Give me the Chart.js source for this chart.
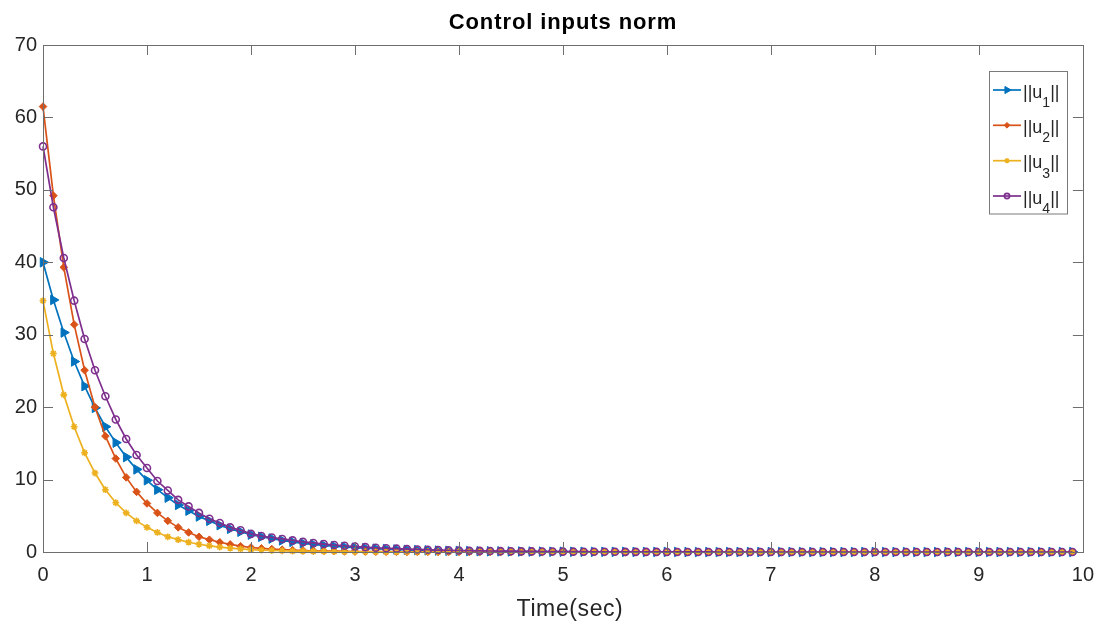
<!DOCTYPE html>
<html>
<head>
<meta charset="utf-8">
<script src="https://cdn.jsdelivr.net/npm/chart.js@4.4.0/dist/chart.umd.min.js"></script>
<style>
  html, body { margin: 0; padding: 0; background: #fff; }
  #wrap { position: relative; width: 1105px; height: 627px; }
</style>
</head>
<body>
<div id="wrap"><canvas id="normChart"></canvas></div>
<script>
// sample times (sec)
const time = [
  0, 0.1, 0.2, 0.3, 0.4, 0.5, 0.6, 0.7, 0.8, 0.9,
  1, 1.1, 1.2, 1.3, 1.4, 1.5, 1.6, 1.7, 1.8, 1.9,
  2, 2.1, 2.2, 2.3, 2.4, 2.5, 2.6, 2.7, 2.8, 2.9,
  3, 3.1, 3.2, 3.3, 3.4, 3.5, 3.6, 3.7, 3.8, 3.9,
  4, 4.1, 4.2, 4.3, 4.4, 4.5, 4.6, 4.7, 4.8, 4.9,
  5, 5.1, 5.2, 5.3, 5.4, 5.5, 5.6, 5.7, 5.8, 5.9,
  6, 6.1, 6.2, 6.3, 6.4, 6.5, 6.6, 6.7, 6.8, 6.9,
  7, 7.1, 7.2, 7.3, 7.4, 7.5, 7.6, 7.7, 7.8, 7.9,
  8, 8.1, 8.2, 8.3, 8.4, 8.5, 8.6, 8.7, 8.8, 8.9,
  9, 9.1, 9.2, 9.3, 9.4, 9.5, 9.6, 9.7, 9.8, 9.9
];

const u1 = [
  40.0, 34.8, 30.3, 26.3, 22.9, 19.9, 17.3, 15.1, 13.1, 11.4,
  9.9, 8.6, 7.5, 6.5, 5.7, 4.9, 4.3, 3.7, 3.2, 2.8,
  2.4, 2.1, 1.85, 1.6, 1.4, 1.2, 1.05, 0.92, 0.8, 0.7,
  0.6, 0.52, 0.46, 0.4, 0.35, 0.3, 0.26, 0.23, 0.2, 0.17,
  0.15, 0.13, 0.11, 0.1, 0.09, 0.08, 0.07, 0.06, 0.05, 0.04,
  0.04, 0.03, 0.03, 0.02, 0.02, 0.02, 0.02, 0.01, 0.01, 0.01,
  0.01, 0.01, 0, 0, 0, 0, 0, 0, 0, 0,
  0, 0, 0, 0, 0, 0, 0, 0, 0, 0,
  0, 0, 0, 0, 0, 0, 0, 0, 0, 0,
  0, 0, 0, 0, 0, 0, 0, 0, 0, 0
];

const u2 = [
  61.5, 49.2, 39.3, 31.4, 25.1, 20.0, 16.0, 12.9, 10.3, 8.3,
  6.7, 5.4, 4.3, 3.4, 2.7, 2.1, 1.7, 1.35, 1.05, 0.8,
  0.62, 0.5, 0.4, 0.32, 0.26, 0.21, 0.17, 0.14, 0.11, 0.09,
  0.07, 0.06, 0.05, 0.04, 0.03, 0.02, 0.02, 0.02, 0.01, 0.01,
  0.01, 0, 0, 0, 0, 0, 0, 0, 0, 0,
  0, 0, 0, 0, 0, 0, 0, 0, 0, 0,
  0, 0, 0, 0, 0, 0, 0, 0, 0, 0,
  0, 0, 0, 0, 0, 0, 0, 0, 0, 0,
  0, 0, 0, 0, 0, 0, 0, 0, 0, 0,
  0, 0, 0, 0, 0, 0, 0, 0, 0, 0
];

const u3 = [
  34.7, 27.4, 21.7, 17.3, 13.7, 10.9, 8.6, 6.8, 5.4, 4.3,
  3.4, 2.7, 2.1, 1.7, 1.35, 1.07, 0.85, 0.67, 0.53, 0.42,
  0.33, 0.26, 0.21, 0.17, 0.13, 0.11, 0.08, 0.07, 0.05, 0.04,
  0.03, 0.03, 0.02, 0.02, 0.01, 0.01, 0, 0, 0, 0,
  0, 0, 0, 0, 0, 0, 0, 0, 0, 0,
  0, 0, 0, 0, 0, 0, 0, 0, 0, 0,
  0, 0, 0, 0, 0, 0, 0, 0, 0, 0,
  0, 0, 0, 0, 0, 0, 0, 0, 0, 0,
  0, 0, 0, 0, 0, 0, 0, 0, 0, 0,
  0, 0, 0, 0, 0, 0, 0, 0, 0, 0
];

const u4 = [
  56.0, 47.6, 40.6, 34.7, 29.4, 25.1, 21.5, 18.3, 15.6, 13.4,
  11.6, 9.8, 8.5, 7.2, 6.3, 5.4, 4.6, 4.0, 3.4, 3.0,
  2.5, 2.2, 2.0, 1.8, 1.6, 1.4, 1.25, 1.1, 0.97, 0.86,
  0.76, 0.67, 0.59, 0.52, 0.46, 0.4, 0.35, 0.31, 0.27, 0.24,
  0.21, 0.18, 0.16, 0.14, 0.12, 0.11, 0.09, 0.08, 0.07, 0.06,
  0.05, 0.045, 0.04, 0.035, 0.03, 0.025, 0.02, 0.02, 0.015, 0.015,
  0.01, 0.01, 0.01, 0.01, 0.01, 0, 0, 0, 0, 0,
  0, 0, 0, 0, 0, 0, 0, 0, 0, 0,
  0, 0, 0, 0, 0, 0, 0, 0, 0, 0,
  0, 0, 0, 0, 0, 0, 0, 0, 0, 0
];

const xTicks = [0, 1, 2, 3, 4, 5, 6, 7, 8, 9, 10];
const yTicks = [0, 10, 20, 30, 40, 50, 60, 70];
const seriesNames = ['1', '2', '3', '4'];   // subscripts of ||u_i||
const seriesColors = ['#0072BD', '#D95319', '#EDB120', '#7E2F8E'];

const FONT = '"Liberation Sans", Arial, Helvetica, sans-serif';
const TEXT = '#262626';
const AXIS = '#6e6e6e';

const markerStyles = [
  { pointStyle: 'triangle', radius: 5.5, rotation: 90, fill: true, borderWidth: 1 },
  { pointStyle: 'rectRot', radius: 3.8, rotation: 0, fill: true, borderWidth: 1 },
  { pointStyle: 'star', radius: 3.4, rotation: 0, fill: false, borderWidth: 1.6 },
  { pointStyle: 'circle', radius: 3.5, rotation: 0, fill: false, borderWidth: 1.6 }
];

const toPoints = vals => time.map((t, i) => ({ x: t, y: vals[i] }));

const datasets = [u1, u2, u3, u4].map((vals, i) => ({
  label: '||u' + seriesNames[i] + '||',
  data: toPoints(vals),
  borderColor: seriesColors[i],
  backgroundColor: markerStyles[i].fill ? seriesColors[i] : 'rgba(0,0,0,0)',
  borderWidth: 1.7,
  pointStyle: markerStyles[i].pointStyle,
  pointRadius: markerStyles[i].radius,
  pointRotation: markerStyles[i].rotation,
  pointBorderWidth: markerStyles[i].borderWidth,
  pointBorderColor: seriesColors[i],
  pointBackgroundColor: markerStyles[i].fill ? seriesColors[i] : 'rgba(0,0,0,0)',
  tension: 0,
  clip: false,
  order: 3 - i   // later series drawn on top, like matlab
}));

// box, inward ticks, titles and legend drawn by hand (matlab look)
const matlabAxes = {
  id: 'matlabAxes',
  afterDraw(chart) {
    const { ctx, chartArea: a, scales } = chart;
    const xs = scales.x, ys = scales.y;
    ctx.save();
    ctx.strokeStyle = AXIS;
    ctx.lineWidth = 1;
    ctx.strokeRect(Math.round(a.left) + 0.5, Math.round(a.top) + 0.5,
      Math.round(a.right - a.left), Math.round(a.bottom - a.top));
    const tl = 10;
    ctx.beginPath();
    xTicks.forEach(v => {
      const px = Math.round(xs.getPixelForValue(v)) + 0.5;
      ctx.moveTo(px, a.bottom); ctx.lineTo(px, a.bottom - tl);
      ctx.moveTo(px, a.top); ctx.lineTo(px, a.top + tl);
    });
    yTicks.forEach(v => {
      const py = Math.round(ys.getPixelForValue(v)) + 0.5;
      ctx.moveTo(a.left, py); ctx.lineTo(a.left + tl, py);
      ctx.moveTo(a.right, py); ctx.lineTo(a.right - tl, py);
    });
    ctx.stroke();

    // title
    ctx.fillStyle = '#000';
    ctx.textAlign = 'center';
    ctx.textBaseline = 'alphabetic';
    ctx.font = 'bold 22px ' + FONT;
    ctx.letterSpacing = '0.9px';
    ctx.fillText('Control inputs norm', 563, 29);
    // x label
    ctx.fillStyle = TEXT;
    ctx.font = '23px ' + FONT;
    ctx.letterSpacing = '0.6px';
    ctx.fillText('Time(sec)', 570, 616);
    ctx.letterSpacing = '0px';

    // legend
    const bx = 989.5, by = 71.5, bw = 78, bh = 142.5;
    ctx.fillStyle = '#fff';
    ctx.fillRect(bx, by, bw, bh);
    ctx.strokeStyle = '#7a7a7a';
    ctx.lineWidth = 1;
    ctx.strokeRect(bx, by, bw, bh);
    const rows = [90, 125.3, 160.7, 196];
    rows.forEach((ry, i) => {
      const col = seriesColors[i];
      ctx.strokeStyle = col;
      ctx.lineWidth = 1.7;
      ctx.beginPath();
      ctx.moveTo(993, ry); ctx.lineTo(1021, ry);
      ctx.stroke();
      const m = markerStyles[i];
      ctx.fillStyle = m.fill ? col : 'rgba(0,0,0,0)';
      ctx.lineWidth = m.borderWidth;
      Chart.helpers.drawPoint(ctx, {
        pointStyle: m.pointStyle, radius: m.radius * 0.75,
        rotation: m.rotation, borderWidth: m.borderWidth
      }, 1007, ry);
      ctx.fillStyle = TEXT;
      ctx.textAlign = 'left';
      ctx.font = '18px ' + FONT;
      let tx = 1023;
      ctx.fillText('||u', tx, ry + 7.5);
      tx += ctx.measureText('||u').width;
      ctx.font = '14px ' + FONT;
      ctx.fillText(seriesNames[i], tx, ry + 17);
      tx += ctx.measureText(seriesNames[i]).width;
      ctx.font = '18px ' + FONT;
      ctx.fillText('||', tx, ry + 7.5);
    });
    ctx.restore();
  }
};

new Chart(document.getElementById('normChart'), {
  type: 'line',
  data: { datasets },
  options: {
    responsive: true,
    maintainAspectRatio: false,
    animation: false,
    layout: { padding: { top: 45, right: 19, left: 0, bottom: 0 } },
    plugins: {
      legend: { display: false },
      title: { display: false },
      tooltip: { enabled: false }
    },
    scales: {
      x: {
        type: 'linear',
        min: 0,
        max: 10,
        afterFit: s => { s.height = 75; },
        afterBuildTicks: s => { s.ticks = xTicks.map(v => ({ value: v })); },
        grid: { display: false, drawTicks: false },
        border: { display: false },
        ticks: { color: TEXT, font: { family: FONT, size: 20 }, padding: 11, maxRotation: 0 }
      },
      y: {
        min: 0,
        max: 70,
        afterFit: s => { s.width = 43; },
        afterBuildTicks: s => { s.ticks = yTicks.map(v => ({ value: v })); },
        grid: { display: false, drawTicks: false },
        border: { display: false },
        ticks: { color: TEXT, font: { family: FONT, size: 20 }, padding: 6 }
      }
    }
  },
  plugins: [matlabAxes]
});
</script>
</body>
</html>
